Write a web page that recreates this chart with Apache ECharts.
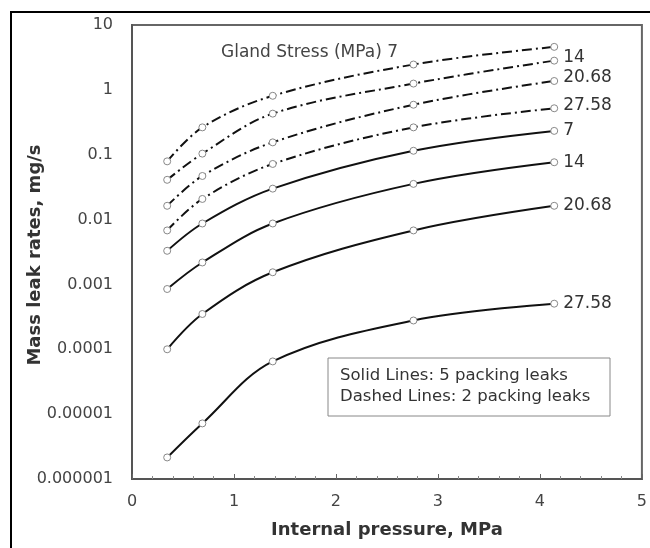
<!DOCTYPE html>
<html><head><meta charset="utf-8">
<script src="https://cdn.jsdelivr.net/npm/echarts@6/dist/echarts.min.js"></script>
<style>html,body{margin:0;padding:0;background:#fff}#c{width:650px;height:548px}</style>
</head><body><div id="c"></div>
<script>
// Internal pressure (MPa)
const pressure = [0.345, 0.69, 1.38, 2.76, 4.14];
// Gland stress labels (MPa)
const glandStress = ['7', '14', '20.68', '27.58'];
// Solid lines: 5 packing leaks (mg/s)
const solid7    = [0.0033, 0.0087, 0.030, 0.115, 0.233];
const solid14   = [0.00085, 0.00218, 0.0087, 0.0355, 0.0765];
const solid2068 = [0.0001, 0.00035, 0.00154, 0.0068, 0.0163];
const solid2758 = [0.00000215, 0.0000072, 0.000065, 0.000278, 0.000505];
// Dashed lines: 2 packing leaks (mg/s)
const dashed7    = [0.079, 0.264, 0.81, 2.46, 4.6];
const dashed14   = [0.041, 0.104, 0.43, 1.25, 2.82];
const dashed2068 = [0.0163, 0.047, 0.155, 0.59, 1.37];
const dashed2758 = [0.0068, 0.0208, 0.072, 0.264, 0.52];
// Tick labels
const yTickLabels = ['0.000001', '0.00001', '0.0001', '0.001', '0.01', '0.1', '1', '10'];
const xTickLabels = ['0', '1', '2', '3', '4', '5'];
const titleText = 'Gland Stress (MPa) 7';
const noteLines = ['Solid Lines: 5 packing leaks', 'Dashed Lines: 2 packing leaks'];
const xTitle = 'Internal pressure, MPa';
const yTitle = 'Mass leak rates, mg/s';

const FONT = '"DejaVu Sans", "Liberation Sans", Arial, sans-serif';

function mk(id, stress, values, dashed, showLabel) {
  return {
    id: id, name: id, type: 'line',
    data: pressure.map((x, i) => [x, values[i]]),
    smooth: 0.35,
    symbol: 'circle', symbolSize: 7,
    itemStyle: { color: '#fff', borderColor: '#888', borderWidth: 1 },
    lineStyle: { color: '#111', width: 2, type: dashed ? [10, 4, 2, 4] : 'solid' },
    endLabel: {
      show: showLabel, formatter: () => stress, distance: 9,
      fontSize: 17, color: '#333', fontFamily: FONT,
      offset: [0, dashed ? -3 : 0]
    },
    emphasis: { disabled: true }
  };
}

const chart = echarts.init(document.getElementById('c'), null, { renderer: 'canvas' });
chart.setOption({
  animation: false,
  backgroundColor: '#fff',
  title: {
    text: titleText, left: 216, top: 39,
    textStyle: { fontSize: 17, fontWeight: 'normal', color: '#444', fontFamily: FONT }
  },
  grid: { left: 132, top: 25, right: 3, bottom: 69, show: true, borderColor: '#666', borderWidth: 2, containLabel: false },
  xAxis: {
    type: 'value', min: 0, max: 5, interval: 1,
    name: xTitle, nameLocation: 'middle', nameGap: 42,
    nameTextStyle: { fontSize: 18, fontWeight: 'bold', color: '#333', fontFamily: FONT },
    axisLine: { lineStyle: { color: '#555', width: 2 } },
    axisTick: { inside: true, length: 5, lineStyle: { color: '#666' } },
    minorTick: { show: true, splitNumber: 5, length: 3, lineStyle: { color: '#888' } },
    splitLine: { show: false },
    axisLabel: { fontSize: 16, color: '#444', margin: 15, fontFamily: FONT,
      formatter: v => xTickLabels[Math.round(v)] }
  },
  yAxis: {
    type: 'log', logBase: 10, min: 0.000001, max: 10, splitNumber: 7,
    axisLine: { show: true, lineStyle: { color: '#555', width: 2 } },
    axisTick: { show: false },
    splitLine: { show: false },
    axisLabel: { fontSize: 16, color: '#444', margin: 19, fontFamily: FONT,
      formatter: v => yTickLabels[Math.round(Math.log10(v)) + 6] }
  },
  graphic: [
    { type: 'rect', shape: { x: 11, y: 12, width: 700, height: 600 },
      style: { fill: 'none', stroke: '#000', lineWidth: 2 }, silent: true },
    { type: 'text', x: 35, y: 255, rotation: Math.PI / 2,
      style: { text: yTitle, fill: '#333', font: 'bold 18px ' + FONT, textAlign: 'center', textVerticalAlign: 'middle' } },
    { type: 'rect', shape: { x: 328, y: 358, width: 282, height: 58 },
      style: { fill: '#fff', stroke: '#888', lineWidth: 1 }, z: 10 },
    { type: 'text', x: 340, y: 376, z: 11,
      style: { text: noteLines[0], fill: '#333', font: '16.5px ' + FONT, textVerticalAlign: 'middle' } },
    { type: 'text', x: 340, y: 397, z: 11,
      style: { text: noteLines[1], fill: '#333', font: '16.5px ' + FONT, textVerticalAlign: 'middle' } }
  ],
  series: [
    mk('d7', glandStress[0], dashed7, true, false),
    mk('d14', glandStress[1], dashed14, true, true),
    mk('d2068', glandStress[2], dashed2068, true, true),
    mk('d2758', glandStress[3], dashed2758, true, true),
    mk('s7', glandStress[0], solid7, false, true),
    mk('s14', glandStress[1], solid14, false, true),
    mk('s2068', glandStress[2], solid2068, false, true),
    mk('s2758', glandStress[3], solid2758, false, true)
  ]
});
</script>
</body></html>
